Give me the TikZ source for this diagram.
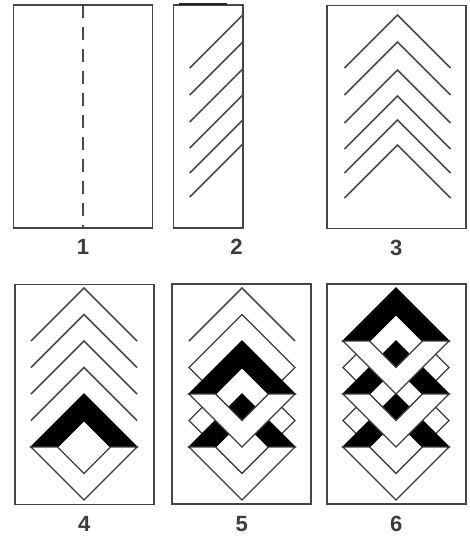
\documentclass[tikz,border=0pt]{standalone}
\usepackage{fontspec}
\setmainfont{Liberation Sans}
\usepackage{tikz}
\usetikzlibrary{positioning}
\definecolor{ink}{HTML}{3C3C3C}
\definecolor{frameC}{HTML}{454545}
\definecolor{cutC}{HTML}{4A4A4A}
% #1 = centre x, #2 = centre y
\newcommand{\backDiamond}[2]{%
  \filldraw[ring] (#1,{#2-53}) -- ({#1+53},#2) -- (#1,{#2+53}) -- ({#1-53},#2) -- cycle;}
% #1 = centre x, #2 = apex y
\newcommand{\foldUnit}[2]{%
  \filldraw[band] (#1,#2) -- ({#1+53},{#2+53}) -- ({#1+26.5},{#2+53}) -- (#1,{#2+26.5})
    -- ({#1-26.5},{#2+53}) -- ({#1-53},{#2+53}) -- cycle;
  \filldraw[ring] ({#1-53},{#2+53}) -- ({#1-26.5},{#2+53}) -- (#1,{#2+79.5})
    -- ({#1+26.5},{#2+53}) -- ({#1+53},{#2+53}) -- (#1,{#2+106}) -- cycle;}

\begin{document}
\begin{tikzpicture}[x=1pt,y=-1pt,
  panel/.style={draw=frameC,line width=1.6pt,inner sep=0pt,outer sep=0pt,minimum width=139pt,minimum height=223pt},
  cut/.style={draw=cutC,line width=1.5pt},
  fold/.style={draw=cutC,line width=1.6pt,dash pattern=on 13pt off 9pt},
  band/.style={fill=black,draw=black,line width=1.2pt},
  ring/.style={fill=white,draw=ink,line width=1.3pt},
  num/.style={font=\fontsize{22}{22}\selectfont\bfseries,text=ink,inner sep=0pt}
]
  \useasboundingbox (0,0) rectangle (470,539);
  \node[panel] (p1) at (83,116.5) {};
  \node[panel,minimum width=69.4pt] (p2) at (208,116.5) {};
  \node[panel] (p3) at (396.2,117) {};
  \node[panel,minimum height=220pt] (p4) at (84.2,394.3) {};
  \node[panel,minimum height=220pt] (p5) at (241.7,394) {};
  \node[panel,minimum height=220pt] (p6) at (396.2,394) {};
  \node[num,below=11pt of p1] (n1) {1};
  \node[num,below left=11pt and 0pt of p2.south east] (n2) {2};
  \node[num,below=11pt of p3] (n3) {3};
  \node[num,below=12pt of p4] (n4) {4};
  \node[num,below=12pt of p5] (n5) {5};
  \node[num,below=12pt of p6] (n6) {6};

  \draw[fold] (p1.north) -- (p1.south);
  \draw[line width=2.4pt,black!85] (179,4) -- (227,4);
  \foreach \a in {15,42,69,95,120,144}
    \draw[cut] (242.7,\a) -- ({242.7-53},{\a+53});
  \foreach \a in {15,42,70,96,120,145}
    \draw[cut] (344.5,{\a+53}) -- (397.5,\a) -- (450.5,{\a+53});

  \foreach \a in {288,314.5,341,367.5}
    \draw[cut] (31,{\a+53}) -- (84,\a) -- (137,{\a+53});
  \foldUnit{84}{394}

  \draw[cut] (189,341) -- (242,288) -- (295,341);
  \backDiamond{242}{420.5}
  \backDiamond{242}{367.5}
  \foldUnit{242}{394}
  \foldUnit{242}{341}

  \backDiamond{396}{420.5}
  \backDiamond{396}{367.5}
  \foldUnit{396}{394}
  \foldUnit{396}{341}
  \foldUnit{396}{288}
\end{tikzpicture}
\end{document}
